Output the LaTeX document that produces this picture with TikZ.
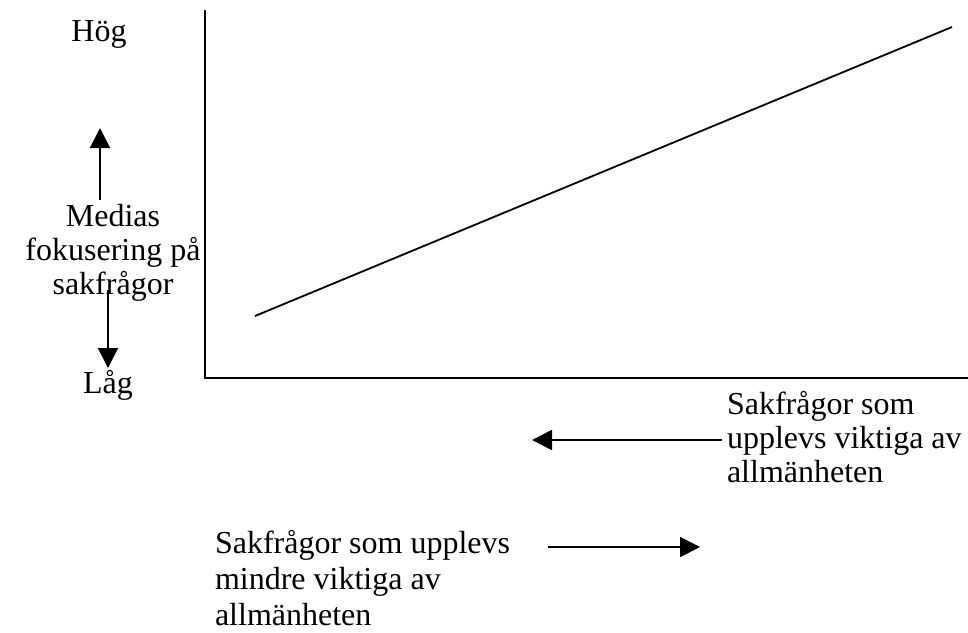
\documentclass[tikz,border=0pt]{standalone}
\usepackage{fontspec}
\setmainfont{Liberation Serif}
\usetikzlibrary{arrows.meta,positioning}

\begin{document}
\begin{tikzpicture}[x=1pt,y=-1pt,
          lab/.style={font=\fontsize{32}{36}\selectfont,inner sep=0pt,outer sep=0pt},
          tight/.style={font=\fontsize{32}{34}\selectfont},
          axis/.style={draw,line width=2.6pt},
          trend/.style={draw,line width=1.8pt},
          pil/.style={draw,line width=1.8pt,-{Triangle[length=20pt,width=20pt]}}
        ]
        \useasboundingbox (0,0) rectangle (968,632);

        %axes
        \coordinate (ytop) at (205,10);
        \coordinate (origo) at (205,378);
        \coordinate (xend) at (968,378);
        \draw[axis] (ytop) -- (origo) -- (xend);

        %line
        \coordinate (t0) at (255,316);
        \coordinate (t1) at (952,27);
        \draw[trend] (t0) -- (t1);

        %labels
        \node[lab,anchor=north] (hog) at (99,21) {Hög};
        \node[lab,tight,anchor=north,align=center] (medias) at (113,204) {Medias\\fokusering på\\sakfrågor};
        \node[lab,anchor=north] (lag) at (108,370) {Låg};
        \node[lab,tight,anchor=north west,align=left] (viktiga) at (727,391) {Sakfrågor som\\upplevs viktiga av\\allmänheten};
        \node[lab,anchor=north west,align=left] (mindre) at (215,530) {Sakfrågor som upplevs\\mindre viktiga av\\allmänheten};

        %arrows
        \coordinate (upp0) at (100,200);
        \coordinate (upp1) at (100,128);
        \coordinate (ned0) at (108,290);
        \coordinate (ned1) at (108,368);
        \coordinate (v0) at (722,440);
        \coordinate (v1) at (532,440);
        \coordinate (h0) at (548,547);
        \coordinate (h1) at (700,547);
        \path
        (upp0) edge[pil] (upp1)
        (ned0) edge[pil] (ned1)
        (v0) edge[pil] (v1)
        (h0) edge[pil] (h1)
        ;
\end{tikzpicture}
\end{document}
